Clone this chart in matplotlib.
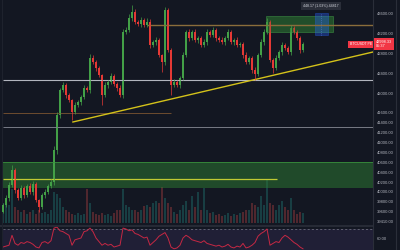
# BTCUSDT candle chart with zones, volume and RSI (dark theme)
import matplotlib
matplotlib.use('Agg')
import matplotlib.pyplot as plt

BG = '#131722'
UP = '#43a047'
DN = '#e53935'

first_open = 39600
closes = [39736, 39877, 40141, 40444, 40039, 39877, 40080, 39938, 40120, 39999,
          40161, 39837, 39695, 39938, 39999, 40120, 40201, 40849, 41557, 42062,
          42163, 41961, 41860, 41617, 41759, 41820, 41921, 42103, 42062, 42710,
          42629, 42507, 42366, 41961, 42163, 42224, 42346, 42184, 42103, 41961,
          43236, 43276, 43519, 43640, 43438, 43398, 43478, 43377, 43438, 42973,
          43033, 43074, 42770, 42629, 43681, 42871, 42163, 42224, 42163, 42305,
          42770, 43236, 43114, 43236, 43074, 43114, 42973, 43033, 43236, 43175,
          43276, 43114, 43074, 43033, 43114, 43236, 43033, 43074, 42973, 42993,
          42770, 42629, 42710, 42467, 42386, 42770, 43033, 43236, 43438, 42669,
          42507, 42710, 42831, 42973, 42912, 42831, 43317, 43236, 43114, 42871,
          42998]
wick_hi = [30, 60, 50, 100, 40, 50, 60, 40, 50, 60,
           70, 40, 30, 50, 60, 40, 60, 80, 60, 40,
           60, 50, 40, 30, 60, 40, 50, 60, 40, 80,
           60, 50, 40, 30, 60, 50, 70, 40, 50, 60,
           70, 60, 80, 140, 60, 50, 70, 40, 80, 60,
           50, 60, 40, 30, 60, 50, 40, 60, 50, 40,
           60, 50, 70, 40, 60, 50, 40, 60, 70, 50,
           60, 40, 50, 60, 40, 70, 50, 40, 60, 50,
           40, 60, 50, 40, 60, 50, 70, 60, 80, 40,
           50, 60, 40, 70, 50, 40, 60, 50, 40, 50,
           30]
wick_lo = [30, 50, 60, 40, 60, 50, 40, 60, 50, 40,
           60, 50, 100, 40, 60, 50, 40, 60, 80, 60,
           50, 60, 40, 160, 50, 40, 60, 50, 40, 60,
           50, 60, 40, 200, 50, 60, 40, 50, 60, 40,
           60, 50, 40, 60, 50, 40, 60, 50, 40, 60,
           50, 60, 40, 200, 60, 50, 200, 50, 40, 60,
           50, 40, 60, 50, 40, 60, 50, 40, 60, 50,
           40, 60, 50, 40, 60, 50, 40, 60, 50, 40,
           60, 50, 40, 60, 120, 50, 40, 60, 50, 40,
           100, 50, 40, 60, 50, 40, 60, 50, 40, 60,
           40]
volume = [45, 50, 40, 75, 35, 30, 25, 30, 20, 25,
          30, 20, 28, 22, 25, 20, 30, 70, 65, 55,
          35, 30, 25, 20, 18, 22, 18, 20, 75, 45,
          25, 20, 18, 22, 18, 20, 15, 22, 28, 30,
          75, 40, 35, 30, 28, 25, 30, 38, 40, 35,
          45, 50, 45, 80, 55, 45, 35, 25, 20, 28,
          40, 50, 30, 60, 35, 70, 30, 78, 30, 22,
          25, 18, 20, 15, 18, 22, 15, 20, 18, 22,
          25, 30, 28, 45, 40, 35, 60, 40, 95, 45,
          40, 30, 40, 50, 35, 30, 55, 30, 20, 25,
          22]
rsi = [50, 51, 52, 63, 54, 52, 55, 54, 56, 55,
       53, 50, 49, 55, 56, 54, 57, 71, 72, 68,
       67, 65, 63, 52, 58, 59, 60, 67, 68, 71,
       67, 60, 56, 52, 54, 52, 53, 50, 51, 52,
       71, 70, 68, 69, 65, 64, 62, 60, 61, 52,
       55, 58, 62, 64, 66, 60, 50, 48, 49, 52,
       60, 63, 61, 58, 57, 56, 55, 57, 54, 53,
       52, 51, 52, 50, 51, 53, 50, 49, 51, 50,
       54, 49, 50, 52, 55, 62, 65, 67, 70, 52,
       54, 56, 55, 60, 63, 61, 58, 55, 53, 50,
       48]

price_ticks = [43600, 43200, 42800, 42400, 42000, 41600, 41400, 41200, 41000,
               40800, 40600, 40400, 40200, 40000, 39800, 39600, 39410]
last_price = '42998.33'
last_time = '05:37'

opens = [first_open] + closes[:-1]
xs = list(range(len(closes)))

fig = plt.figure(figsize=(4, 2.5), dpi=100, facecolor=BG)

# volume overlay (bottom of price pane)
vax = fig.add_axes([0, 27 / 250, 373 / 400, 45 / 250])
vax.set_zorder(1)
vax.patch.set_visible(False)
vcols = ['#26a69a' if c >= o else '#ef5350' for o, c in zip(opens, closes)]
vax.bar(xs, volume, width=0.55, color=vcols, alpha=0.28, linewidth=0)
vax.set_xlim(-1, 123.33)
vax.set_ylim(0, 100)
vax.axis('off')

# price pane
ax = fig.add_axes([0, 25 / 250, 373 / 400, 225 / 250])
ax.set_zorder(2)
ax.patch.set_visible(False)
ax.set_xlim(-1, 123.33)
ax.set_ylim(39331, 43883)

ax.axhspan(40080, 40606, xmin=0.008, color='#2e7d32', alpha=0.5, lw=0)
ax.axhline(40606, xmin=0.008, color='#388e3c', lw=0.6)
ax.hlines(40262, 0, 91.3, color='#c0ca33', lw=0.9)
ax.hlines(42265, 0, 123.33, color='#b2b5be', lw=0.8)
ax.hlines(41314, 0, 123.33, color='#787b86', lw=0.7)
ax.hlines(41597, 0, 56, color='#6d4c2f', lw=0.7)
ax.hlines(43377, 48, 123.33, color='#8a6d3b', lw=1.0)
ax.plot([23.3, 123.33], [41415, 42831], color='#d4c21a', lw=1.0)

for x, o, c, h, l in zip(xs, opens, closes, wick_hi, wick_lo):
    col = UP if c >= o else DN
    ax.vlines(x, min(o, c) - l, max(o, c) + h, color=col, lw=0.5)
    ax.bar(x, max(abs(c - o), 8), bottom=min(o, c), width=0.6, color=col, lw=0)

# measuring boxes top right
ax.fill_between([87.7, 110], 43236, 43559, color='#2e7d32', alpha=0.55, lw=0.6,
                edgecolor='#43a047')
ax.fill_between([104, 108.3], 43175, 43620, color='#2962ff', alpha=0.35, lw=0.6,
                edgecolor='#2962ff')
ax.vlines(106.15, 43175, 43620, color='#5b7bd5', lw=0.5, linestyles=':')
ax.text(106, 43765, '448.17 (1.03%) 44817', fontsize=2.6, color='#d1d4dc',
        ha='center', va='center', family='Liberation Sans',
        bbox=dict(boxstyle='square,pad=0.6', fc='#2a2e39', ec='none'))
ax.text(123.0, 42990, 'BTCUSDT PE', fontsize=2.6, color='#ffffff',
        ha='right', va='center', family='Liberation Sans',
        bbox=dict(boxstyle='square,pad=0.4', fc='#f23645', ec='none'))

ax.yaxis.tick_right()
ax.set_yticks(price_ticks)
ax.set_yticklabels(['%.2f' % p for p in price_ticks])
ax.tick_params(axis='y', length=0, pad=3, labelsize=3, labelcolor='#b2b5be')
for lab in ax.get_yticklabels():
    lab.set_family('Liberation Sans')
ax.set_xticks([])
for s in ax.spines.values():
    s.set_visible(False)

ax.text(1.0075, 42998, last_price + '\n' + last_time, transform=ax.get_yaxis_transform(),
        fontsize=2.8, color='white', ha='left', va='center', family='Liberation Sans',
        linespacing=1.1, zorder=5,
        bbox=dict(boxstyle='square,pad=0.5', fc='#f23645', ec='none'))

# RSI pane
rax = fig.add_axes([0, 0, 373 / 400, 24 / 250], facecolor=BG)
rax.set_xlim(-1, 123.33)
rax.set_ylim(46.7, 73.3)
rax.axhspan(30, 70, xmin=0.008, color='#7e57c2', alpha=0.13, lw=0)
rax.axhline(70, xmin=0.008, color='#787b86', lw=0.5, ls=(0, (3, 3)))
rax.plot(xs, rsi, color='#c62844', lw=0.7)
rax.yaxis.tick_right()
rax.set_yticks([60])
rax.set_yticklabels(['60.00'])
rax.tick_params(axis='y', length=0, pad=3, labelsize=3, labelcolor='#b2b5be')
for lab in rax.get_yticklabels():
    lab.set_family('Liberation Sans')
rax.set_xticks([])
for s in rax.spines.values():
    s.set_visible(False)

# pane borders
fig.add_artist(plt.Line2D([0, 373 / 400], [24.5 / 250, 24.5 / 250], color='#2a2e39', lw=1.2))
fig.add_artist(plt.Line2D([373 / 400, 373 / 400], [0, 1], color='#2a2e39', lw=0.8))
fig.add_artist(plt.Line2D([396 / 400, 396 / 400], [0, 1], color='#2a2e39', lw=0.8))
fig.add_artist(plt.Line2D([2 / 400, 2 / 400], [0, 1], color='#1e222d', lw=0.8))

fig.savefig('out.png', dpi=100, facecolor=BG)
